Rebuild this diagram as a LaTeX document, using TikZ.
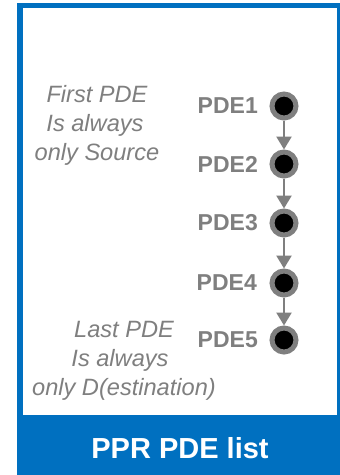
\documentclass[tikz,border=0pt]{standalone}
\usepackage{fontspec}
\setmainfont{Liberation Sans}
\usetikzlibrary{arrows.meta}
\definecolor{pprblue}{HTML}{0070C0}
\definecolor{pgray}{HTML}{7F7F7F}
\tikzset{
  pde/.style={circle, draw=pgray, fill=black, line width=5pt, minimum size=24pt, inner sep=0pt, outer sep=2.5pt},
  pdelabel/.style={anchor=east, inner sep=0pt, text=pgray, font=\bfseries\fontsize{23}{28}\selectfont},
  note/.style={anchor=base, inner sep=0pt, text=pgray, font=\itshape\fontsize{23.6}{28}\selectfont},
  flow/.style={draw=pgray, line width=2.5pt, -{Triangle[width=15pt,length=13pt]}},
}
\begin{document}
\begin{tikzpicture}[x=1pt,y=-1pt]
\useasboundingbox (0,0) rectangle (340,475);
\fill[pprblue] (17,3) rectangle (340,475);
\fill[white] (23,8) rectangle (337,415);
\node[text=white, font=\bfseries\fontsize{29}{34}\selectfont, inner sep=0pt] (title) at (180,448) {PPR PDE list};

\node[pde] (p1) at (284,106) {};
\node[pde] (p2) at (284,164) {};
\node[pde] (p3) at (284,223) {};
\node[pde] (p4) at (284,283) {};
\node[pde] (p5) at (284,340) {};

\node[pdelabel] (l1) at (258,106) {PDE1};
\node[pdelabel] (l2) at (258,164) {PDE2};
\node[pdelabel] (l3) at (258,223) {PDE3};
\node[pdelabel] (l4) at (257,283) {PDE4};
\node[pdelabel] (l5) at (258,340) {PDE5};

\draw[flow] (p1) -- (p2);
\draw[flow] (p2) -- (p3);
\draw[flow] (p3) -- (p4);
\draw[flow] (p4) -- (p5);

\node[note] (f1) at (97,102) {First PDE};
\node[note] (f2) at (95,131) {Is always};
\node[note] (f3) at (97,160) {only Source};

\node[note] (g1) at (124,337) {Last PDE};
\node[note] (g2) at (120,366) {Is always};
\node[note] (g3) at (124,395) {only D(estination)};
\end{tikzpicture}
\end{document}
